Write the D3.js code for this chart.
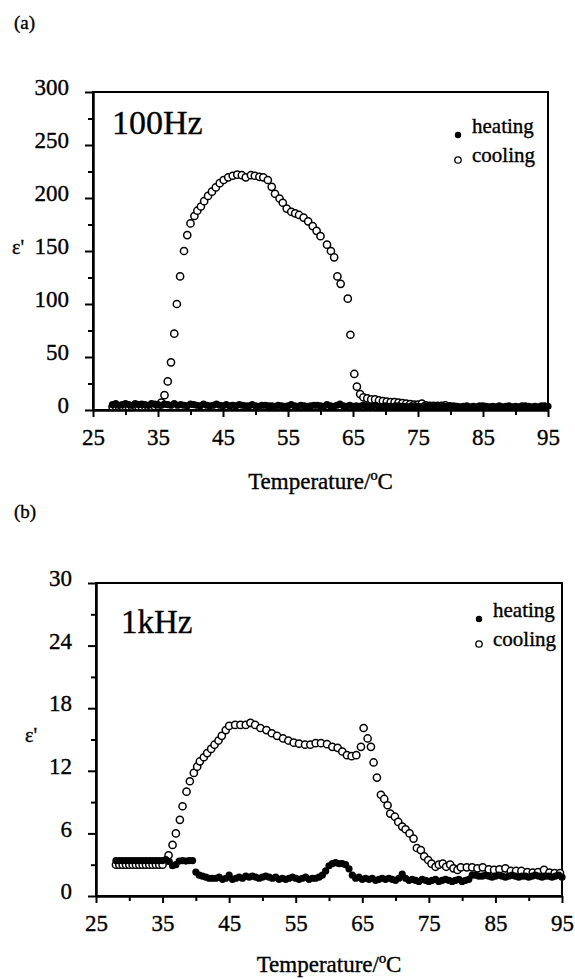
<!DOCTYPE html>
<html>
<head>
<meta charset="utf-8">
<script src="https://cdn.jsdelivr.net/npm/d3@7"></script>
<style>
  body { margin: 0; background: #fff; }
  svg { display: block; }
  text { font-family: "Liberation Serif", "Times New Roman", serif; fill: #000; }
</style>
</head>
<body>
<div id="wrapper"></div>
<script>
// temperature grid for heating runs (both panels)
const heatTemps = [
  28,28.5,29,29.5,30,30.5,31,31.5,32,32.5,
  33,33.5,34,34.5,35,35.5,36,36.5,37,37.5,
  38,38.5,39,39.5,40,40.5,41,41.5,42,42.5,
  43,43.5,44,44.5,45,45.5,46,46.5,47,47.5,
  48,48.5,49,49.5,50,50.5,51,51.5,52,52.5,
  53,53.5,54,54.5,55,55.5,56,56.5,57,57.5,
  58,58.5,59,59.5,60,60.5,61,61.5,62,62.5,
  63,63.5,64,64.5,65,65.5,66,66.5,67,67.5,
  68,68.5,69,69.5,70,70.5,71,71.5,72,72.5,
  73,73.5,74,74.5,75,75.5,76,76.5,77,77.5,
  78,78.5,79,79.5,80,80.5,81,81.5,82,82.5,
  83,83.5,84,84.5,85,85.5,86,86.5,87,87.5,
  88,88.5,89,89.5,90,90.5,91,91.5,92,92.5,
  93,93.5,94,94.5,95
]

// (a) 100Hz heating
const heatA = [
  5,6,4.5,5,6,5,4.5,6,5,5.5,
  5,4.5,6,5.5,5,4.5,5.5,5,4.5,6,
  4.5,5,4.5,4,5.5,5,4.5,4,5.5,4.5,
  4,4.5,5.5,4.5,4,5,4,4.5,4,5,
  4.5,4,4,5,4,3.5,4.5,4.5,4,4,
  3.5,4.5,4,3.5,4,5,4,3.5,4.5,4,
  3.5,4,4.5,4.5,4,3.5,5,4,3.5,4.5,
  5.5,4,3.5,4.5,3.5,4,3.5,4.5,4,3.5,
  3.5,4.5,3.5,3.5,4,3.5,3,4,4,3.5,
  3.5,3,4,4,3.5,3,4,3.5,3,3.5,
  4,3,3.5,3,4,4,3.5,3,3.5,4,
  3,3.5,3,4,4,3.5,3,3.5,3,4,
  3,3.5,4,3,3.5,3,4,4,3.5,3,
  3.5,3,4,4,3.5
]

// (a) 100Hz cooling
const coolTempA = [
  28,28.5,29,29.5,30,30.5,31,31.5,32,32.5,33,33.5,34,34.5,35,
  35.5,36,36.5,37,37.5,37.9,38.4,39,39.5,40,40.6,41.05,41.6,42.1,42.7,
  43.3,43.9,44.5,45.1,45.8,46.5,47.2,47.9,48.5,49.3,49.9,50.6,51.2,51.9,
  52.5,53,53.7,54.2,54.8,55.5,56.1,56.7,57.4,58.1,58.8,59.4,60,61,61.6,
  62.1,62.6,63.1,64.2,64.6,65.2,65.6,66.1,66.6,67.2,67.8,68.4,69,69.6,
  70.2,70.8,71.4,72,72.6,73.2,73.8,74.4,75,75.6,76.2,76.8,77.4,78,78.6,
  79.2,79.8
]
const coolA = [
  3,3.5,3,3,3.5,3,3,3.5,3,3,3.5,3,3,3.5,4,
  7,14,27,45,72,100,126,150,165,176,183,188,192,197,202,
  206,210,214,217,219.5,221,222,221.5,219.5,221.5,221,220,219.5,217,
  210.5,204,199.5,195.5,190,187,185.5,184,181.5,178,173.5,169,164,156,150,
  144,126,119,105,71,34,22,15,12,11,10,10,9,8.5,
  8,7.5,7.5,7,6.5,6,5.5,5,5,6,4.5,4,4,4,4,
  4.5,3.5
]

// (b) 1kHz heating
const heatB = [
  3.4,3.4,3.4,3.4,3.4,3.4,3.4,3.4,3.4,3.4,
  3.4,3.4,3.4,3.4,3.4,3.5,3.3,2.9,3.0,3.35,
  3.4,3.35,3.4,3.4,2.3,2.0,1.9,1.8,1.7,1.7,
  1.7,1.8,1.6,1.7,2.0,1.6,1.7,1.8,1.7,1.9,
  1.8,1.9,1.8,1.7,1.8,1.9,1.8,1.7,1.8,1.6,
  1.7,1.6,1.7,1.8,1.7,1.6,1.7,1.8,1.6,1.7,
  1.7,1.8,2.0,2.4,2.9,3.1,3.2,3.1,3.1,3.0,
  2.6,2.0,1.7,1.8,1.6,1.7,1.6,1.7,1.5,1.6,
  1.7,1.6,1.7,1.6,1.5,1.7,2.1,1.7,1.5,1.6,
  1.5,1.4,1.6,1.5,1.4,1.5,1.6,1.4,1.5,1.6,
  1.5,1.4,1.5,1.6,1.4,1.5,1.6,2.0,2.0,1.9,
  1.9,2.0,1.9,1.8,1.9,2.0,1.9,1.8,1.9,2.0,
  1.9,1.8,1.9,1.9,1.8,1.9,2.0,1.9,1.8,1.9,
  1.9,1.8,1.9,2.0,1.8
]

// (b) 1kHz cooling
const coolTempB = [
  28,28.5,29,29.5,30,30.5,31,31.5,32,32.5,33,33.5,34,34.5,35,
  35.9,36.5,37,37.6,38,38.6,39.1,39.7,40.2,40.6,41.2,41.7,42.3,42.8,43.4,
  43.9,44.5,45,45.9,46.7,47.5,48.2,48.9,49.7,50.6,51.4,52.2,53.1,53.9,
  54.7,55.5,56.4,57.2,58,58.8,59.7,60.5,61.3,62,62.7,63.4,64.1,64.8,
  65.2,65.8,66.3,66.7,67.2,67.8,68.3,68.8,69.2,69.9,70.4,71,71.5,72.1,
  72.7,73.2,73.8,74.3,74.9,75.4,76,76.5,77.1,77.6,78.2,78.7,79.3,79.8,
  80.7,81.5,82.3,83.1,84,84.8,85.6,86.5,87.3,88.1,88.9,89.8,90.6,91.4,
  92.3,93.1,93.9,94.7
]
const coolB = [
  3,3,3,3,3,3,3,3,3,3,3,3,3,3,3,
  3.9,4.9,6,7.3,8.6,10,11,11.8,12.4,12.9,13.3,13.7,14.1,14.5,14.9,
  15.35,15.9,16.3,16.4,16.4,16.4,16.6,16.4,16.1,15.9,15.6,15.35,15.1,14.9,
  14.7,14.6,14.5,14.5,14.65,14.65,14.55,14.3,14.2,13.85,13.5,13.4,13.5,14.3,
  16.1,15.1,14.3,12.8,11.35,9.7,9.3,8.7,7.9,7.6,7.1,6.65,6.4,6,
  5.5,4.6,4.4,3.8,3.45,3.1,2.8,3,3.1,2.8,3,2.65,2.5,2.75,
  2.75,2.75,2.65,2.75,2.55,2.5,2.55,2.65,2.4,2.4,2.4,2.3,2.25,2.3,
  2.5,2.25,2.2,2.2
]

const xTicksMajor = [25, 35, 45, 55, 65, 75, 85, 95]
const xTicksMinor = [30, 40, 50, 60, 70, 80, 90]
const yTicksMajorA = [0, 50, 100, 150, 200, 250, 300]
const yTicksMinorA = [25, 75, 125, 175, 225, 275]
const yTicksMajorB = [0, 6, 12, 18, 24, 30]
const yTicksMinorB = [3, 9, 15, 21, 27]

const serif = "Liberation Serif"

const svg = d3.select("#wrapper")
  .append("svg")
  .attr("width", 575)
  .attr("height", 979)
  .attr("font-family", serif)

svg.append("rect").attr("width", 575).attr("height", 979).attr("fill", "#fff")

// small helper so every label gets the same serif look
function label(x, y, txt, size) {
  return svg.append("text")
    .attr("x", x).attr("y", y)
    .attr("font-family", serif)
    .attr("font-size", size)
    .attr("fill", "#000")
    .attr("stroke", "#000")
    .attr("stroke-width", 0.35)
    .text(txt)
}

function drawPanel(p) {
  const xScale = d3.scaleLinear().domain([25, 95]).range(p.xRange)
  const yScale = d3.scaleLinear().domain([0, p.yMax]).range(p.yRange)
  const g = svg.append("g")

  // frame
  g.append("rect")
    .attr("x", xScale(25))
    .attr("y", yScale(p.yMax))
    .attr("width", xScale(95) - xScale(25))
    .attr("height", yScale(0) - yScale(p.yMax))
    .attr("fill", "none")
    .attr("stroke", "#000")
    .attr("stroke-width", 2)

  // cooling (open circles)
  const cool = p.coolT.map((t, i) => ({ t, v: p.coolV[i] }))
  g.append("g").selectAll("circle")
    .data(cool)
    .join("circle")
    .attr("cx", d => xScale(d.t))
    .attr("cy", d => yScale(d.v))
    .attr("r", 3.6)
    .attr("fill", "#fff")
    .attr("stroke", "#000")
    .attr("stroke-width", 1.5)

  // heating (filled dots)
  const heat = heatTemps.map((t, i) => ({ t, v: p.heatV[i] }))
  g.append("g").selectAll("circle")
    .data(heat)
    .join("circle")
    .attr("cx", d => xScale(d.t))
    .attr("cy", d => yScale(d.v))
    .attr("r", 3.6)
    .attr("fill", "#000")

  // axes
  const yAxis = g.append("g")
    .attr("transform", `translate(${xScale(25)},0)`)
    .call(d3.axisLeft(yScale).tickValues(p.yMajor).tickSize(8).tickPadding(16).tickSizeOuter(0))
  g.append("g")
    .attr("transform", `translate(${xScale(25)},0)`)
    .call(d3.axisLeft(yScale).tickValues(p.yMinor).tickSize(5).tickFormat("").tickSizeOuter(0))
    .select(".domain").remove()

  const xAxis = g.append("g")
    .attr("transform", `translate(0,${yScale(0)})`)
    .call(d3.axisBottom(xScale).tickValues(xTicksMajor).tickSize(7).tickSizeOuter(0))
  g.append("g")
    .attr("transform", `translate(0,${yScale(0)})`)
    .call(d3.axisBottom(xScale).tickValues(xTicksMinor).tickSize(5).tickFormat("").tickSizeOuter(0))
    .select(".domain").remove()

  g.selectAll(".domain").attr("stroke", "#000").attr("stroke-width", 2.5)
  g.selectAll(".tick line").attr("stroke", "#000").attr("stroke-width", 2)
  g.selectAll("g").attr("font-family", serif).attr("font-size", 23)
  g.selectAll(".tick text")
    .attr("font-family", serif)
    .attr("font-size", 23)
    .attr("fill", "#000")
    .attr("stroke", "#000")
    .attr("stroke-width", 0.35)
  yAxis.selectAll(".tick text").attr("dy", "0.12em")
  xAxis.selectAll(".tick text").attr("y", 19).attr("dy", "0.71em")

  // peripherals
  label(14, p.tagY, p.tag, 19)
  label(p.epsX, p.epsY, "ε'", 20)
  label((xScale(25) + xScale(95)) / 2, p.xLabelY, "Temperature/ºC", 23)
    .attr("text-anchor", "middle")
  label(p.freqX, p.freqY, p.freq, p.freqSize)

  // legend
  svg.append("circle")
    .attr("cx", p.legX).attr("cy", p.legY + 2)
    .attr("r", 3.2).attr("fill", "#000")
  label(p.legX + 14, p.legY, "heating", 21)
  svg.append("circle")
    .attr("cx", p.legX).attr("cy", p.legY + 27)
    .attr("r", 3.2).attr("fill", "#fff").attr("stroke", "#000").attr("stroke-width", 1.3)
  label(p.legX + 14, p.legY + 29, "cooling", 21)
}

drawPanel({
  xRange: [93, 548], yRange: [410, 92], yMax: 300,
  yMajor: yTicksMajorA, yMinor: yTicksMinorA,
  heatV: heatA, coolT: coolTempA, coolV: coolA,
  tag: "(a)", tagY: 29, epsX: 12, epsY: 254, xLabelY: 489,
  freq: "100Hz", freqX: 112, freqY: 134, freqSize: 34,
  legX: 458, legY: 133
})

drawPanel({
  xRange: [96, 562], yRange: [896, 583], yMax: 30,
  yMajor: yTicksMajorB, yMinor: yTicksMinorB,
  heatV: heatB, coolT: coolTempB, coolV: coolB,
  tag: "(b)", tagY: 518, epsX: 25, epsY: 742, xLabelY: 972,
  freq: "1kHz", freqX: 121, freqY: 633, freqSize: 33,
  legX: 479, legY: 617
})
</script>
</body>
</html>
